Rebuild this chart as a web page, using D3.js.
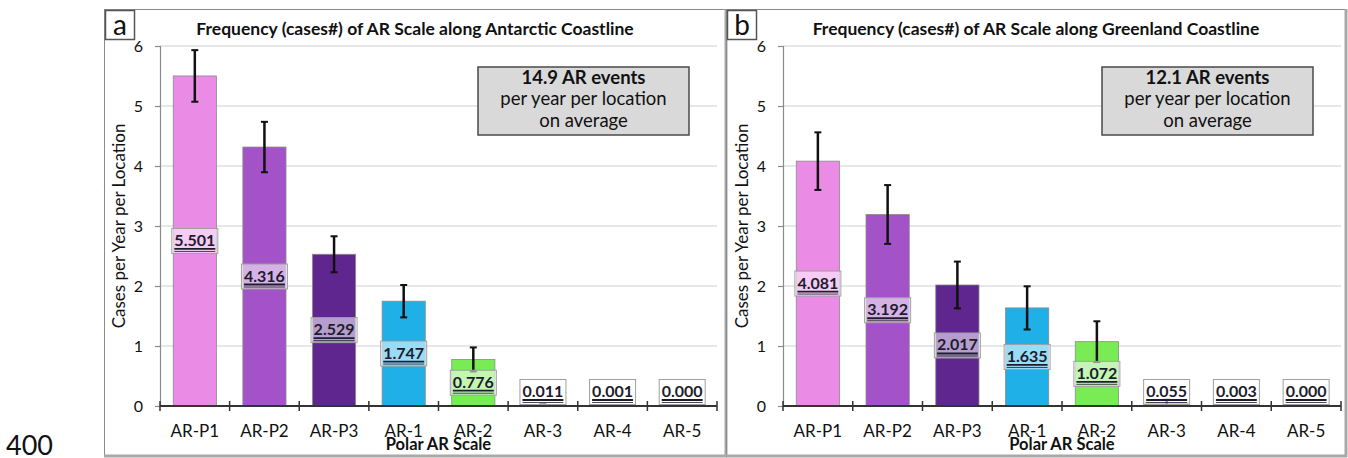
<!DOCTYPE html>
<html>
<head>
<meta charset="utf-8">
<script src="https://cdn.jsdelivr.net/npm/d3@7"></script>
<style>
  body { margin: 0; background: #fff; }
  svg { display: block; font-family: Lato, "Open Sans", sans-serif; }
</style>
</head>
<body>
<svg id="chart" width="1348" height="458"></svg>
<script>
// values
const categories = ["AR-P1", "AR-P2", "AR-P3", "AR-1", "AR-2", "AR-3", "AR-4", "AR-5"];
const antarcticValues = [5.501, 4.316, 2.529, 1.747, 0.776, 0.011, 0.001, 0.000];
const antarcticErrors = [0.43, 0.42, 0.30, 0.27, 0.20, 0.02, 0.004, 0];
const greenlandValues = [4.081, 3.192, 2.017, 1.635, 1.072, 0.055, 0.003, 0.000];
const greenlandErrors = [0.48, 0.49, 0.39, 0.36, 0.34, 0.05, 0.01, 0];
const yTicks = [0, 1, 2, 3, 4, 5, 6];
const barColors = ["#ea8ce6", "#a452c8", "#5f2690", "#1fb0e8", "#79ec55", "#c4a43c", "#d0782a", "#c0302a"];

const panels = [
  { tag: "a", values: antarcticValues, errors: antarcticErrors, total: "14.9",
    title: "Frequency (cases#) of AR Scale along Antarctic Coastline",
    frame: [104, 9, 622, 447], plot: [160, 717], summary: [478, 67, 211, 68] },
  { tag: "b", values: greenlandValues, errors: greenlandErrors, total: "12.1",
    title: "Frequency (cases#) of AR Scale along Greenland Coastline",
    frame: [726, 9, 620, 447], plot: [783, 1341], summary: [1102, 67, 211, 68] }
];

const svg = d3.select("svg#chart");
let yTop = 46, yBottom = 406;

svg.append("text")
  .attr("x", 6).attr("y", 455)
  .attr("font-size", 27).attr("fill", "#111")
  .text("400");

function drawPanel(p) {
  let g = svg.append("g");
  let [fx, fy, fw, fh] = p.frame;
  let x0 = p.plot[0], x1 = p.plot[1];

  let xScale = d3.scaleBand().domain(categories).range([x0, x1]).paddingInner(0.38).paddingOuter(0.19);
  let yScale = d3.scaleLinear().domain([0, 6]).range([yBottom, yTop]);

  // frame
  g.append("rect")
    .attr("x", fx + 0.5).attr("y", fy + 0.5).attr("width", fw).attr("height", fh)
    .attr("fill", "none").attr("stroke", "#8a8a8a").attr("stroke-width", 1);
  g.append("line")
    .attr("x1", fx + fw).attr("x2", fx + fw).attr("y1", fy).attr("y2", fy + fh + 1)
    .attr("stroke", "#a8a8a8").attr("stroke-width", 3);
  g.append("line")
    .attr("x1", fx).attr("x2", fx + fw + 1).attr("y1", fy + fh).attr("y2", fy + fh)
    .attr("stroke", "#a8a8a8").attr("stroke-width", 3);

  // tag box
  g.append("rect")
    .attr("x", fx + 1.5).attr("y", fy + 1.5).attr("width", 29).attr("height", 29)
    .attr("fill", "#fff").attr("stroke", "#555").attr("stroke-width", 1.5);
  g.append("text")
    .attr("x", fx + 16).attr("y", fy + 26)
    .attr("text-anchor", "middle").attr("font-size", 28).attr("fill", "#111")
    .text(p.tag);

  // title
  g.append("text")
    .attr("x", fx + fw / 2).attr("y", 35)
    .attr("text-anchor", "middle").attr("font-size", 17.5).attr("font-weight", "bold").attr("fill", "#111")
    .text(p.title);

  // grid
  g.selectAll(".grid").data(yTicks.filter(d => d > 0)).join("line")
    .attr("x1", x0).attr("x2", x1)
    .attr("y1", d => yScale(d)).attr("y2", d => yScale(d))
    .attr("stroke", "#cfcfcf").attr("stroke-width", 1.2);

  // y axis
  let yAxis = g.append("g")
    .attr("transform", `translate(${x0},0)`)
    .call(d3.axisLeft(yScale).tickValues(yTicks).tickSize(5).tickFormat(d3.format("d")));
  yAxis.select(".domain").attr("stroke", "#8a8a8a").attr("stroke-width", 1.2);
  yAxis.selectAll(".tick line").attr("stroke", "#8a8a8a").attr("stroke-width", 1.2);
  yAxis.selectAll(".tick text")
    .attr("x", -17).attr("font-size", 16).attr("fill", "#111")
    .attr("font-family", "Lato, sans-serif");

  g.append("text")
    .attr("transform", `translate(${x0 - 35},${(yTop + yBottom) / 2}) rotate(-90)`)
    .attr("text-anchor", "middle").attr("font-size", 17).attr("fill", "#111")
    .text("Cases per Year per Location");

  // bars
  let bars = categories.map((c, i) => ({ cat: c, v: p.values[i], e: p.errors[i], color: barColors[i] }));

  g.selectAll(".bar").data(bars).join("rect")
    .attr("x", d => xScale(d.cat))
    .attr("y", d => yScale(d.v))
    .attr("width", xScale.bandwidth())
    .attr("height", d => yScale(0) - yScale(d.v))
    .attr("fill", d => d.color)
    .attr("stroke", "#8a8a8a").attr("stroke-width", 0.8);

  // error bars
  let eb = g.selectAll(".err").data(bars.filter(d => d.e > 0)).join("g")
    .attr("transform", d => `translate(${xScale(d.cat) + xScale.bandwidth() / 2},0)`);
  eb.append("line")
    .attr("y1", d => yScale(d.v + d.e)).attr("y2", d => yScale(Math.max(0, d.v - d.e)))
    .attr("stroke", "#111").attr("stroke-width", 2.5);
  eb.append("line")
    .attr("x1", -3.5).attr("x2", 3.5)
    .attr("y1", d => yScale(d.v + d.e)).attr("y2", d => yScale(d.v + d.e))
    .attr("stroke", "#111").attr("stroke-width", 2);
  eb.append("line")
    .attr("x1", -3.5).attr("x2", 3.5)
    .attr("y1", d => yScale(Math.max(0, d.v - d.e))).attr("y2", d => yScale(Math.max(0, d.v - d.e)))
    .attr("stroke", "#111").attr("stroke-width", 2);

  // x axis
  g.append("line")
    .attr("x1", x0).attr("x2", x1).attr("y1", yBottom).attr("y2", yBottom)
    .attr("stroke", "#333").attr("stroke-width", 2);
  g.selectAll(".xtick").data(d3.range(categories.length + 1)).join("line")
    .attr("x1", i => x0 + i * xScale.step()).attr("x2", i => x0 + i * xScale.step())
    .attr("y1", yBottom - 5).attr("y2", yBottom + 5)
    .attr("stroke", "#333").attr("stroke-width", 1.5);
  g.selectAll(".xlab").data(categories).join("text")
    .attr("x", d => xScale(d) + xScale.bandwidth() / 2).attr("y", 437)
    .attr("text-anchor", "middle").attr("font-size", 17).attr("fill", "#111")
    .text(d => d);
  g.append("text")
    .attr("x", (x0 + x1) / 2).attr("y", 450)
    .attr("text-anchor", "middle").attr("font-size", 16.5).attr("font-weight", "bold").attr("fill", "#111")
    .text("Polar AR Scale");

  // value labels
  let lab = g.selectAll(".vlab").data(bars).join("g")
    .attr("transform", d => `translate(${xScale(d.cat) + xScale.bandwidth() / 2},${Math.min(yScale(d.v / 2), yBottom - 14)})`);
  lab.append("rect")
    .attr("x", -23).attr("y", -12.5).attr("width", 46).attr("height", 25)
    .attr("fill", "#fff").attr("fill-opacity", 0.55)
    .attr("stroke", "#a0a0a0").attr("stroke-width", 1);
  lab.append("text")
    .attr("y", 5).attr("text-anchor", "middle")
    .attr("font-size", 16).attr("font-weight", "bold").attr("fill", "#1c1c2c")
    .text(d => d.v.toFixed(3));
  lab.each(function() {
    let t = d3.select(this).select("text");
    let w = t.node().getComputedTextLength();
    d3.select(this).append("line")
      .attr("x1", -w / 2).attr("x2", w / 2).attr("y1", 8).attr("y2", 8)
      .attr("stroke", "#1c1c2c").attr("stroke-width", 1.8);
    d3.select(this).append("line")
      .attr("x1", -w / 2).attr("x2", w / 2).attr("y1", 10.5).attr("y2", 10.5)
      .attr("stroke", "#1c1c2c").attr("stroke-width", 0.8);
  });

  // summary box
  let [sx, sy, sw, sh] = p.summary;
  g.append("rect")
    .attr("x", sx).attr("y", sy).attr("width", sw).attr("height", sh)
    .attr("fill", "#d9d9d9").attr("stroke", "#4a4a4a").attr("stroke-width", 1.5);
  let st = g.append("text")
    .attr("text-anchor", "middle").attr("font-size", 18.5).attr("fill", "#111");
  st.append("tspan").attr("x", sx + sw / 2).attr("y", sy + 17).attr("font-weight", "bold").text(p.total + " AR events");
  st.append("tspan").attr("x", sx + sw / 2).attr("y", sy + 38).text("per year per location");
  st.append("tspan").attr("x", sx + sw / 2).attr("y", sy + 60).text("on average");
}

panels.forEach(drawPanel);
</script>
</body>
</html>
